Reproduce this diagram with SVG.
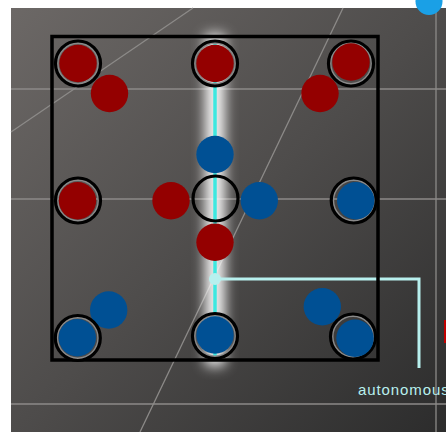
<svg xmlns="http://www.w3.org/2000/svg" width="446" height="432" viewBox="0 0 446 432">
<defs>
<linearGradient id="bg" x1="0" y1="0" x2="1" y2="1">
<stop offset="0" stop-color="#6c6866"/>
<stop offset="0.5" stop-color="#4e4c4b"/>
<stop offset="1" stop-color="#2c2c2c"/>
</linearGradient>
<filter id="blur" x="-3" y="-0.2" width="7" height="1.4">
<feGaussianBlur stdDeviation="6.5"/>
</filter>
</defs>
<style>
.grid{stroke:#8c8a88;stroke-width:1.3;fill:none}
.ring{fill:none;stroke:#000;stroke-width:3.2}
.inner{fill:none;stroke:#8a8a8a;stroke-width:2}
.red{fill:#940000}
.blue{fill:#005094}
.conn{stroke:#b8f0ee;stroke-width:3;fill:none}
.lbl{font-family:"Liberation Sans",Arial,sans-serif;font-size:15px;fill:#b8f0ee;letter-spacing:0.9px}
</style>
<rect width="446" height="432" fill="#ffffff"/>
<rect x="11" y="8" width="435" height="424" fill="url(#bg)"/>
<g id="grid">
<line class="grid" x1="11" y1="89" x2="446" y2="89"/>
<line class="grid" x1="11" y1="199" x2="446" y2="199"/>
<line class="grid" x1="11" y1="404" x2="446" y2="404"/>
<line class="grid" x1="436" y1="8" x2="436" y2="432" stroke="#7a7a7a" stroke-width="2"/>
<line class="grid" x1="11" y1="132" x2="193" y2="8"/>
<line class="grid" x1="343" y1="8" x2="140" y2="432"/>
</g>
<rect x="205" y="34" width="20" height="332" fill="#ffffff" filter="url(#blur)" opacity="0.95"/>
<g id="connectors">
<line x1="215" y1="40" x2="215" y2="358" stroke="#3ee8e0" stroke-width="3.5"/>
<polyline class="conn" points="215,279 419,279 419,368"/>
<circle cx="215" cy="279" r="6" fill="#b8f0ee"/>
</g>
<rect id="frame" x="52" y="36.5" width="326" height="323.5" fill="none" stroke="#000" stroke-width="3.5"/>
<g id="n-tl"><circle class="inner" cx="78" cy="63.5" r="20.5"/><circle class="ring" cx="78" cy="63.5" r="22.5"/><circle class="red" cx="78" cy="63.5" r="18.7"/></g>
<g id="n-tm"><circle class="inner" cx="215" cy="63.5" r="20.5"/><circle class="ring" cx="215" cy="63.5" r="22.5"/><circle class="red" cx="215" cy="63.5" r="18.7"/></g>
<g id="n-tr"><circle class="inner" cx="351" cy="63.5" r="20.5"/><circle class="ring" cx="351" cy="63.5" r="22.5"/><circle class="red" cx="351" cy="62" r="18.7"/></g>
<g id="p-r1"><circle class="red" cx="109.5" cy="93.5" r="18.7"/></g>
<g id="p-r2"><circle class="red" cx="320" cy="93.5" r="18.7"/></g>
<g id="p-b1"><circle class="blue" cx="215" cy="154.5" r="18.7"/></g>
<g id="n-ml"><circle class="inner" cx="78" cy="200.5" r="20.5"/><circle class="ring" cx="78" cy="200.5" r="22.5"/><circle class="red" cx="77.5" cy="200.7" r="18.7"/></g>
<g id="p-r3"><circle class="red" cx="171" cy="200.7" r="18.7"/></g>
<g id="n-mm"><circle class="ring" cx="215.5" cy="198.5" r="22.5"/></g>
<g id="p-b2"><circle class="blue" cx="259.3" cy="200.7" r="18.7"/></g>
<g id="n-mr"><circle class="inner" cx="353.7" cy="200.5" r="20.5"/><circle class="ring" cx="353.7" cy="200.5" r="22.5"/><circle class="blue" cx="355.7" cy="200.7" r="18.7"/></g>
<g id="p-r4"><circle class="red" cx="215" cy="242.3" r="18.7"/></g>
<g id="p-b3"><circle class="blue" cx="108.7" cy="310" r="18.7"/></g>
<g id="p-b4"><circle class="blue" cx="322.3" cy="306.7" r="18.7"/></g>
<g id="n-bl"><circle class="inner" cx="77.8" cy="338" r="20.5"/><circle class="ring" cx="77.8" cy="338" r="22.5"/><circle class="blue" cx="77.3" cy="337.7" r="18.7"/></g>
<g id="n-bm"><circle class="inner" cx="215" cy="336" r="20.5"/><circle class="ring" cx="215" cy="336" r="22.5"/><circle class="blue" cx="215" cy="335" r="18.7"/></g>
<g id="n-br"><circle class="inner" cx="353" cy="336.5" r="20.5"/><circle class="ring" cx="353" cy="336.5" r="22.5"/><circle class="blue" cx="355" cy="338.3" r="18.7"/></g>
<circle id="corner-dot" cx="429" cy="1.5" r="13.5" fill="#1aa0e6"/>
<rect id="red-edge" x="444" y="320" width="2" height="23" fill="#c00000"/>
<text class="lbl" x="358" y="395">autonomous</text>
</svg>
